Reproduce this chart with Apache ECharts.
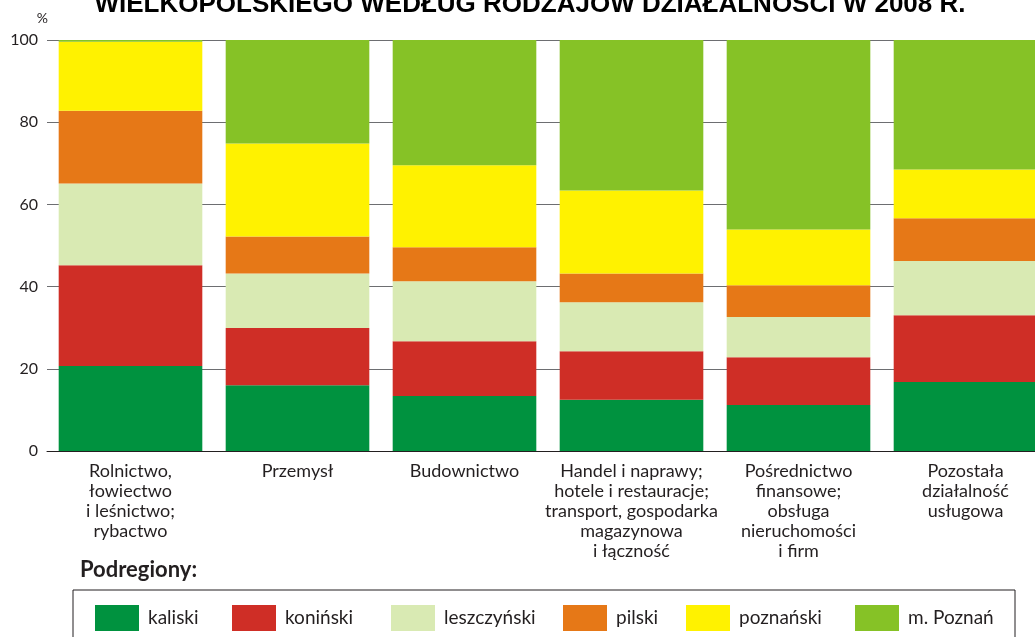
<!DOCTYPE html>
<html>
<head>
<meta charset="utf-8">
<script src="https://cdn.jsdelivr.net/npm/echarts@6/dist/echarts.min.js"></script>
<style>
  html, body { margin: 0; padding: 0; background: #fff; overflow: hidden; }
  /* wykres jest przycięty z prawej — płótno szersze niż okno */
  #chart { width: 1060px; height: 637px; }
</style>
</head>
<body>
<div id="chart"></div>
<script>
// struktura według rodzajów działalności, %
const kategorie = [
  'Rolnictwo,\nłowiectwo\ni leśnictwo;\nrybactwo',
  'Przemysł',
  'Budownictwo',
  'Handel i naprawy;\nhotele i restauracje;\ntransport, gospodarka\nmagazynowa\ni łączność',
  'Pośrednictwo\nfinansowe;\nobsługa\nnieruchomości\ni firm',
  'Pozostała\ndziałalność\nusługowa'
];
const podregiony = ['kaliski', 'koniński', 'leszczyński', 'pilski', 'poznański', 'm. Poznań'];
const kaliski    = [20.7, 16.0, 13.4, 12.5, 11.2, 16.8];
const koninski   = [24.5, 13.9, 13.3, 11.8, 11.6, 16.2];
const leszczynski = [19.9, 13.3, 14.6, 11.9, 9.8, 13.2];
const pilski     = [17.7, 9.0, 8.3, 7.0, 7.7, 10.4];
const poznanski  = [16.8, 22.6, 19.9, 20.2, 13.6, 11.9];
const mPoznan    = [0.4, 25.2, 30.5, 36.6, 46.1, 31.5];
const yTicks = [0, 20, 40, 60, 80, 100];

const KOLORY = ['#00923f', '#cf2e26', '#d9eab3', '#e67817', '#fff200', '#86c226'];
const dane = [kaliski, koninski, leszczynski, pilski, poznanski, mPoznan];
const FONT = 'Lato, "Open Sans", sans-serif';
const LEG_X = [95, 232, 391, 563, 686, 855]; // położenie kwadratów legendy

const chart = echarts.init(document.getElementById('chart'));
chart.setOption({
  animation: false,
  title: {
    text: 'WIELKOPOLSKIEGO WEDŁUG RODZAJÓW DZIAŁALNOŚCI W 2008 R.',
    left: 525, top: -13, textAlign: 'center',
    textStyle: { fontFamily: '"Liberation Sans", Arial, sans-serif', fontSize: 26, fontWeight: 'bold', color: '#000' }
  },
  grid: { left: 47, top: 40, width: 1002, height: 411 },
  legend: podregiony.map((n, i) => ({
    data: [n],
    left: LEG_X[i], top: 605, padding: 0,
    itemWidth: 44, itemHeight: 26,
    icon: 'rect',
    textStyle: { fontFamily: FONT, fontSize: 19, color: '#231f20', padding: [0, 0, 0, 4] }
  })),
  xAxis: {
    type: 'category',
    data: kategorie,
    axisTick: { show: false },
    axisLine: { lineStyle: { color: '#231f20', width: 1 } },
    axisLabel: { interval: 0, fontFamily: FONT, fontSize: 18, lineHeight: 20, color: '#231f20', margin: 10, verticalAlign: 'top' }
  },
  yAxis: {
    type: 'value', min: yTicks[0], max: yTicks[yTicks.length - 1], interval: 20,
    name: '%', nameLocation: 'end', nameGap: 15,
    nameTextStyle: { fontFamily: FONT, fontSize: 14, color: '#231f20', align: 'right', padding: [0, -1, 0, 0] },
    axisTick: { show: false },
    axisLine: { show: false },
    axisLabel: { fontFamily: FONT, fontSize: 16, color: '#231f20', margin: 9 },
    splitLine: { lineStyle: { color: '#6d6e71', width: 1 } }
  },
  series: podregiony.map((n, i) => ({
    name: n, type: 'bar', stack: 'razem', data: dane[i],
    barCategoryGap: '14%',
    itemStyle: { color: KOLORY[i] }
  })),
  graphic: [
    { type: 'text', left: 80, top: 559,
      style: { text: 'Podregiony:', fontFamily: FONT, fontSize: 22, fontWeight: 'bold', fill: '#231f20' } },
    { type: 'rect', shape: { x: 73, y: 590, width: 942, height: 60 },
      style: { fill: 'none', stroke: '#231f20', lineWidth: 1 } }
  ]
});
</script>
</body>
</html>
